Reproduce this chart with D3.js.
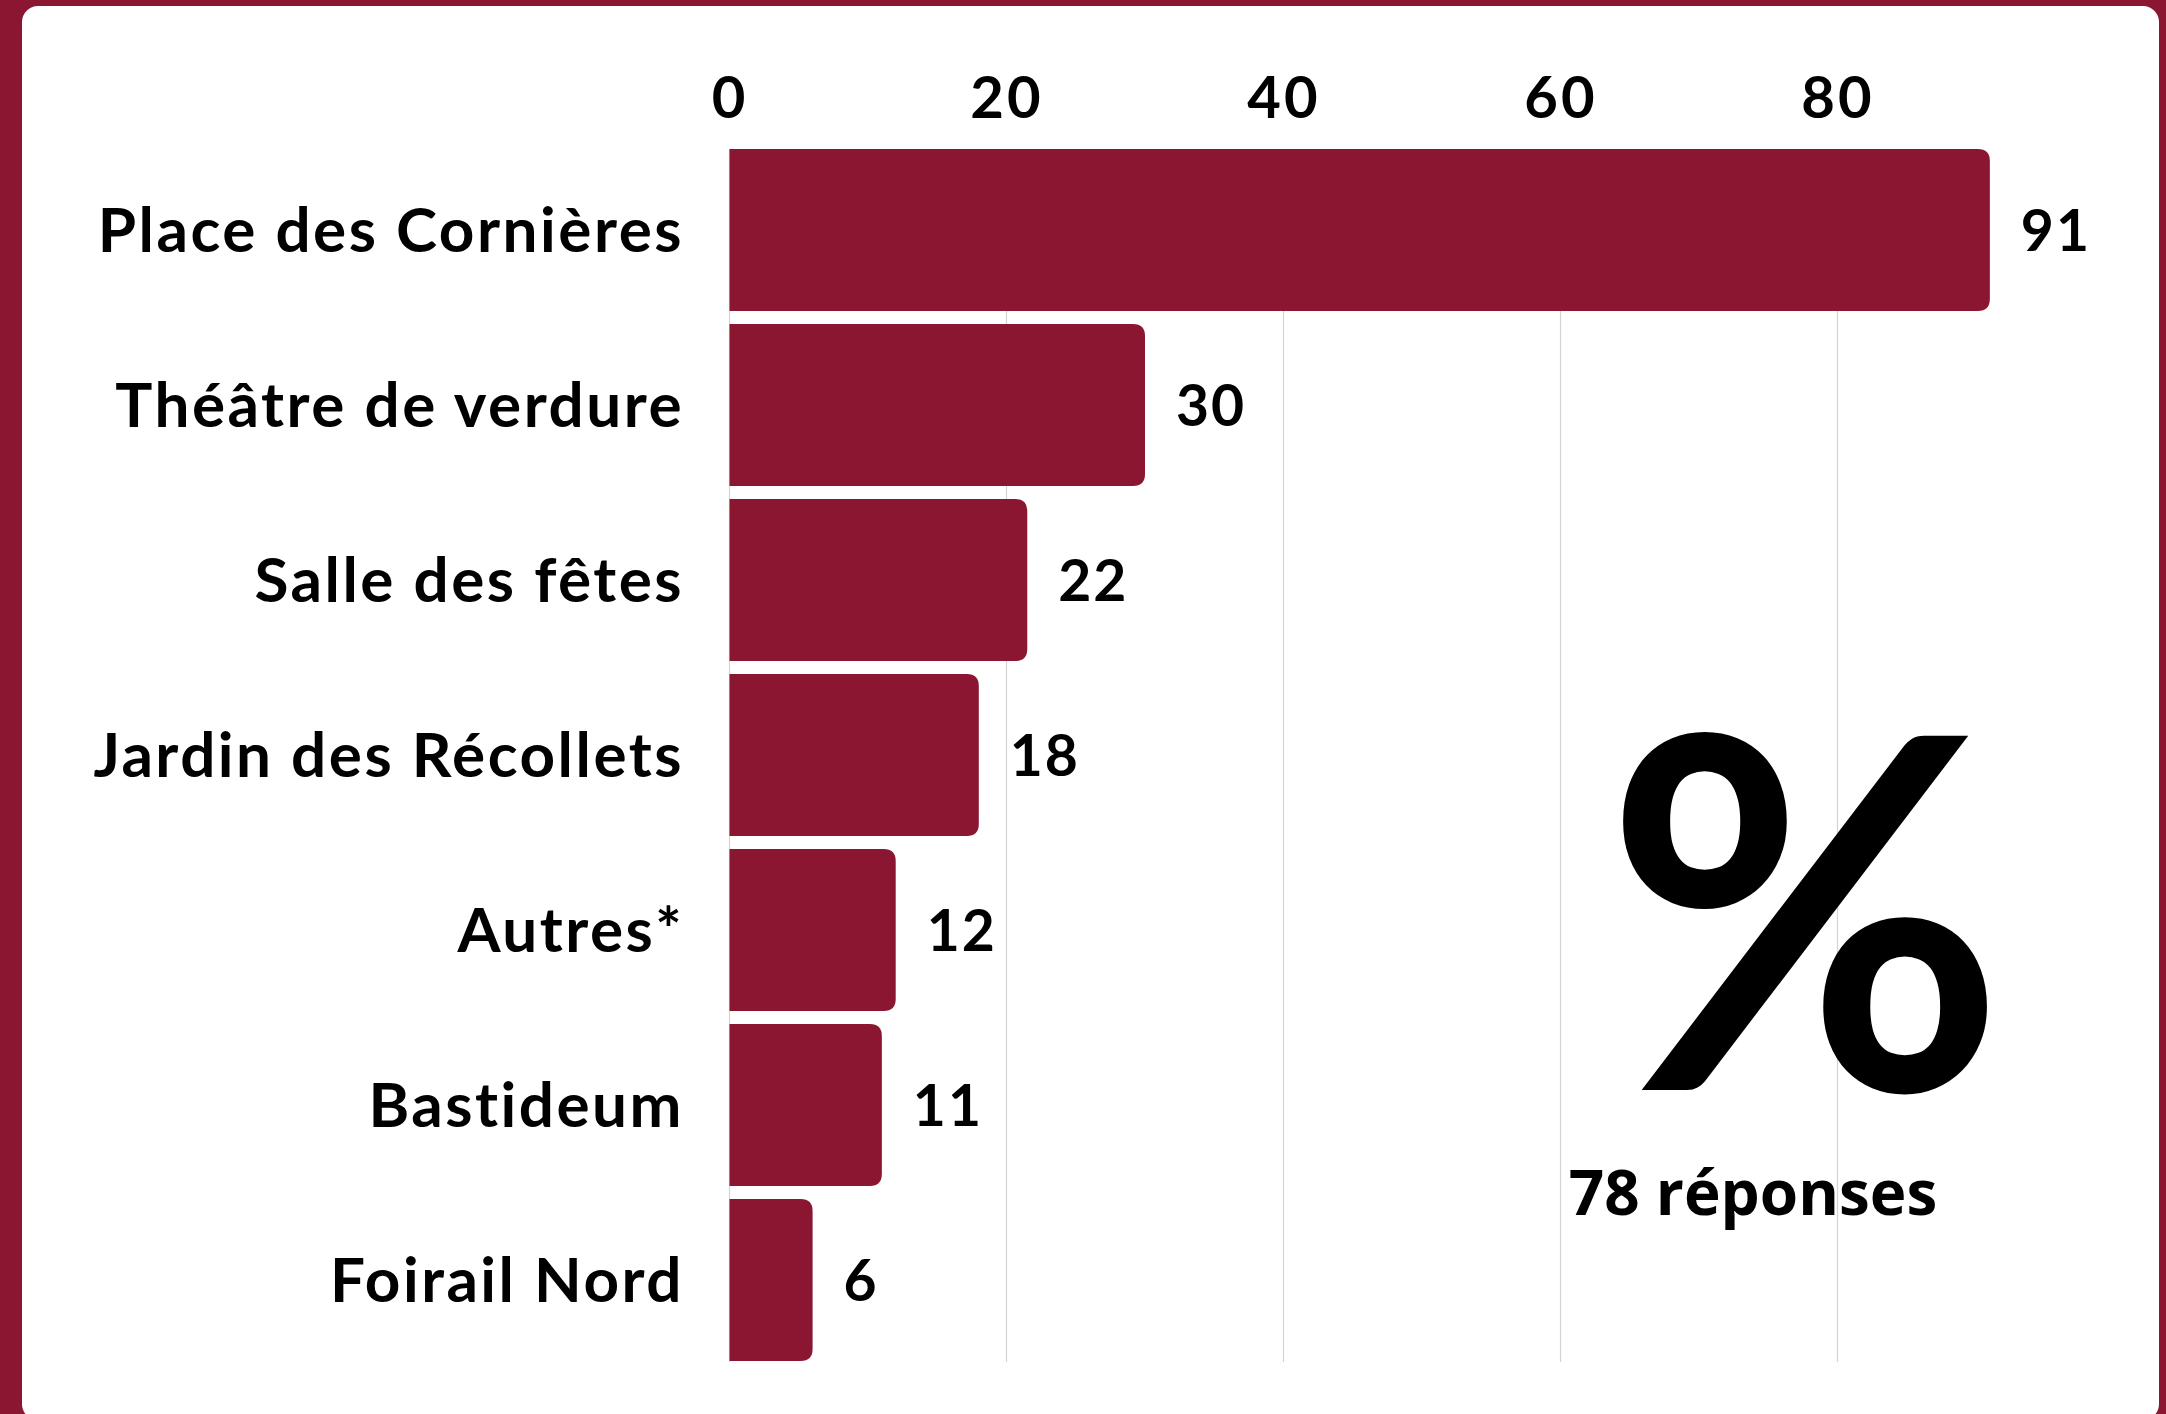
<!DOCTYPE html>
<html>
<head>
<meta charset="utf-8">
<script src="https://cdn.jsdelivr.net/npm/d3@7"></script>
<style>
  html, body { margin: 0; padding: 0; background: #8a1632; }
  svg { display: block; }
</style>
</head>
<body>
<svg id="chart" width="2166" height="1414"></svg>
<script>
const categories = ["Place des Cornières", "Théâtre de verdure", "Salle des fêtes", "Jardin des Récollets", "Autres*", "Bastideum", "Foirail Nord"];
const values = [91, 30, 21.5, 18, 12, 11, 6];
const tickValues = [0, 20, 40, 60, 80];
const symbolText = "%";
const responsesText = "78 réponses";

const W = 2166, H = 1414;
const maroon = "#8a1632";
const svg = d3.select("#chart");
const fmt = d3.format(".0f");

// background card
svg.append("rect").attr("x", 0).attr("y", 0).attr("width", W).attr("height", H).attr("fill", maroon);
svg.append("rect").attr("x", 22).attr("y", 6).attr("width", 2159 - 22).attr("height", 1420 - 6)
  .attr("rx", 16).attr("ry", 16).attr("fill", "#ffffff");

const x = d3.scaleLinear().domain([0, 91]).range([729.5, 729.5 + 91 * 13.85]);
const y = d3.scaleBand().domain(categories).range([149, 1361]).paddingInner(13 / 175).paddingOuter(0);

// gridlines
svg.append("g").selectAll("line").data(tickValues).join("line")
  .attr("x1", d => x(d)).attr("x2", d => x(d))
  .attr("y1", 149).attr("y2", 1362)
  .attr("stroke", "#d4d4d4").attr("stroke-width", 1.2);

// top axis
const axis = d3.axisTop(x).tickValues(tickValues).tickSize(0).tickPadding(0);
const gAxis = svg.append("g").attr("transform", "translate(0,97)").call(axis);
gAxis.select(".domain").remove();
gAxis.selectAll("text")
  .attr("font-family", "Lato, 'Noto Sans', sans-serif")
  .attr("font-weight", 700)
  .attr("font-size", 58)
  .attr("letter-spacing", 3)
  .attr("fill", "#000")
  .attr("dy", "0.36em");

const rows = categories.map((c, i) => ({ c, v: values[i] }));
const r = 12;

function barPath(d) {
  const x0 = x(0), x1 = x(d.v), y0 = y(d.c), h = y.bandwidth();
  const rr = Math.min(r, (x1 - x0) / 2);
  return `M${x0},${y0}H${x1 - rr}Q${x1},${y0} ${x1},${y0 + rr}V${y0 + h - rr}Q${x1},${y0 + h} ${x1 - rr},${y0 + h}H${x0}Z`;
}

svg.append("g").selectAll("path").data(rows).join("path")
  .attr("d", barPath).attr("fill", maroon);

// value labels
svg.append("g").selectAll("text").data(rows).join("text")
  .attr("x", d => x(d.v) + 31)
  .attr("y", d => y(d.c) + y.bandwidth() / 2)
  .attr("dy", "0.36em")
  .attr("font-family", "Lato, 'Noto Sans', sans-serif")
  .attr("font-weight", 700)
  .attr("font-size", 57)
  .attr("letter-spacing", 2)
  .attr("fill", "#000")
  .text(d => fmt(d.v));

// category labels
svg.append("g").selectAll("text").data(rows).join("text")
  .attr("x", 684)
  .attr("y", d => y(d.c) + y.bandwidth() / 2)
  .attr("dy", "0.36em")
  .attr("text-anchor", "end")
  .attr("font-family", "Lato, 'Noto Sans', sans-serif")
  .attr("font-weight", 700)
  .attr("font-size", 62)
  .attr("letter-spacing", 2.5)
  .attr("fill", "#000")
  .text(d => d.c);

// big percent symbol and responses count
svg.append("text")
  .attr("x", 1805).attr("y", 1090)
  .attr("text-anchor", "middle")
  .attr("font-family", "Lato, sans-serif")
  .attr("font-weight", 700)
  .attr("font-size", 490)
  .attr("fill", "#000")
  .text(symbolText);

svg.append("text")
  .attr("x", 1753).attr("y", 1215)
  .attr("text-anchor", "middle")
  .attr("font-family", "'Open Sans', sans-serif")
  .attr("font-weight", 700)
  .attr("font-size", 62)
  .attr("fill", "#000")
  .text(responsesText);
</script>
</body>
</html>
